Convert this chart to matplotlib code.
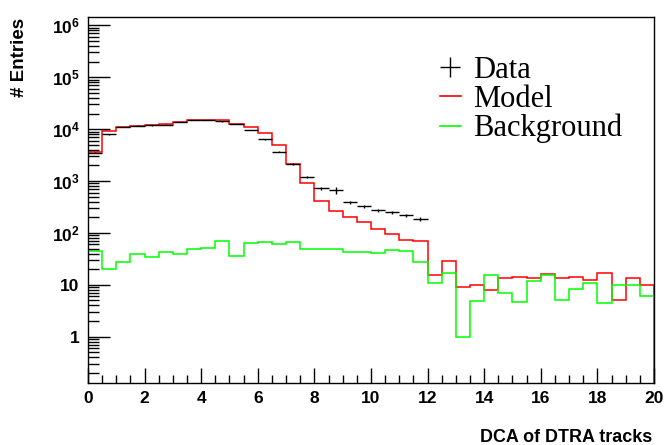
import numpy as np
import matplotlib
matplotlib.use("Agg")
import matplotlib.pyplot as plt
from matplotlib.lines import Line2D
from matplotlib.ticker import FixedLocator, LogLocator, FuncFormatter, MultipleLocator

# DCA histogram, 40 bins of 0.5 from 0 to 20
edges = np.linspace(0, 20, 41)

# data only filled up to DCA = 12
data = [3500, 7940, 11000, 11700, 11800, 12200, 13700, 15100, 15100, 14100,
        12500, 9600, 6360, 3670, 2150, 1180, 723, 662, 389, 330,
        276, 250, 218, 185]
data_err = [90, 150, 180, 180, 180, 190, 200, 210, 210, 200,
            190, 170, 140, 110, 80, 50, 50, 105, 25, 22,
            18, 17, 15, 14]

model = [3550, 9300, 10900, 11700, 11800, 12300, 13700, 15100, 15100, 14800,
         12600, 10800, 8450, 5000, 2150, 903, 417, 268, 200, 164,
         117, 94, 72, 70, 15.4, 28.8, 9.1, 9.8, 7.8, 13.7,
         14.1, 13.3, 15.9, 13.5, 14.3, 12.2, 17.1, 5.1, 13.3, 10.0]

background = [45, 19.9, 27.9, 40, 33.9, 42.9, 39.7, 48.3, 50.5, 68.9,
              35.9, 63, 65.9, 60.3, 66.8, 49.6, 49.6, 49.6, 42.3, 42.3,
              40.4, 47.5, 45, 27, 10.7, 16.6, 0.97, 4.9, 15.7, 7,
              4.6, 11.8, 15.2, 5.2, 8.2, 11, 4.5, 9.8, 9.8, 6.2]

plt.rcParams['mathtext.fontset'] = 'custom'
plt.rcParams['mathtext.bf'] = 'Liberation Sans:bold'
plt.rcParams['mathtext.rm'] = 'Liberation Sans'

fig = plt.figure(figsize=(6.65, 4.45), dpi=100)
ax = fig.add_axes([0.1323, 0.1404, 0.8511, 0.8213])

ax.stairs(model, edges, baseline=1e-3, color='#ff0000', lw=1.1)
ax.stairs(background, edges, baseline=1e-3, color='#00ff00', lw=1.1)

centers = 0.5 * (edges[:-1] + edges[1:])
nd = len(data)
ax.errorbar(centers[:nd], data, xerr=0.25, yerr=data_err, fmt='none',
            ecolor='black', elinewidth=1.0, capsize=0)

ax.set_yscale('log')
ax.set_xlim(0, 20)
ax.set_ylim(0.131, 1.445e6)

# ticks only on left and bottom, pointing into the frame
ax.xaxis.set_major_locator(MultipleLocator(2))
ax.xaxis.set_minor_locator(MultipleLocator(0.5))
ax.yaxis.set_major_locator(FixedLocator([1, 10, 1e2, 1e3, 1e4, 1e5, 1e6]))
ax.yaxis.set_minor_locator(LogLocator(base=10, subs=np.arange(2, 10), numticks=20))


def ylab(v, pos):
    e = int(round(np.log10(v)))
    if e == 0:
        return '1'
    if e == 1:
        return '10'
    return r'$\mathbf{10^{%d}}$' % e


ax.yaxis.set_major_formatter(FuncFormatter(ylab))
ax.tick_params(axis='x', which='major', direction='in', length=11, width=1, pad=6,
               top=False, labelsize=12.5)
ax.tick_params(axis='x', which='minor', direction='in', length=5.5, width=1, top=False)
ax.tick_params(axis='y', which='major', direction='in', length=16, width=1, pad=6,
               right=False, labelsize=12.5)
ax.tick_params(axis='y', which='minor', direction='in', length=8, width=1, right=False)
for lab in ax.get_xticklabels() + ax.get_yticklabels():
    lab.set_fontfamily('Liberation Sans')
    lab.set_fontweight('bold')

for sp in ax.spines.values():
    sp.set_linewidth(1)

# axis titles placed in figure pixels, ROOT style (right / top aligned)
fig.text(652 / 665, 1 - 437 / 445, 'DCA of DTRA tracks', family='Liberation Sans',
         weight='bold', fontsize=12.9, ha='right', va='center')
fig.text(20 / 665, 1 - 18 / 445, '# Entries', family='Liberation Sans',
         weight='bold', fontsize=13.5, ha='center', va='top', rotation=90)

handles = [
    Line2D([], [], color='black', marker='+', markersize=15, lw=0, markeredgewidth=1),
    Line2D([], [], color='#ff0000', lw=1.2),
    Line2D([], [], color='#00ff00', lw=1.2),
]
ax.legend(handles, ['Data', 'Model', 'Background'], loc='upper left',
          bbox_to_anchor=(0.6, 0.927), frameon=False,
          prop={'family': 'Liberation Serif', 'size': 22},
          handlelength=0.7, handletextpad=0.4, labelspacing=0.0,
          borderaxespad=0)

fig.savefig('out.png', dpi=100)
